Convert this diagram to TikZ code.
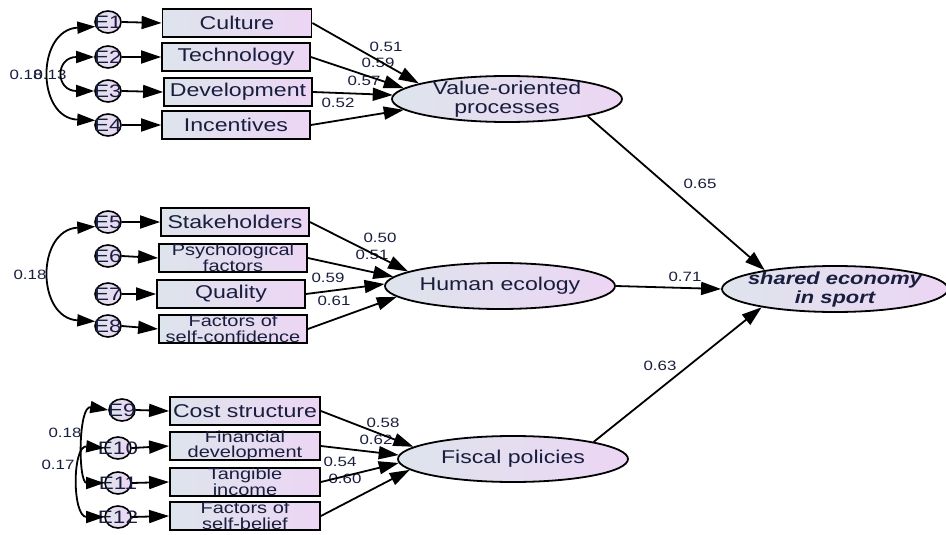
\documentclass[tikz,border=0pt]{standalone}
\usepackage{fontspec}
\setmainfont[FakeStretch=1.25]{Liberation Sans}
\usetikzlibrary{arrows.meta,shapes.geometric}
\definecolor{txt}{RGB}{25,30,62}
\definecolor{lc}{RGB}{222,228,236}
\definecolor{rc}{RGB}{236,214,244}
\begin{document}
\begin{tikzpicture}[x=1pt,y=-1pt,
  box/.style={draw, line width=1.8pt, left color=lc, right color=rc, minimum width=148pt, minimum height=28pt, inner sep=0pt},
  bt/.style={font=\fontsize{18.5}{18}\selectfont, text=txt, align=center, inner sep=0pt},
  bt2/.style={font=\fontsize{16}{15.5}\selectfont, text=txt, align=center, inner sep=0pt},
  lat/.style={ellipse, draw, line width=1.8pt, left color=lc, right color=rc, minimum width=230pt, minimum height=46pt, inner sep=0pt},
  lt/.style={font=\fontsize{18.5}{19}\selectfont, text=txt, align=center, inner sep=0pt},
  err/.style={ellipse, draw, line width=1.6pt, left color=lc, right color=rc, minimum width=26pt, minimum height=22pt, inner sep=0pt},
  et/.style={font=\fontsize{18}{18}\selectfont, text=txt, inner sep=0pt},
  num/.style={font=\fontsize{13.5}{13.5}\selectfont, text=txt, inner sep=0pt},
  arr/.style={line width=1.8pt, -{Triangle[length=20pt,width=13pt]}},
  cov/.style={line width=1.8pt, {Triangle[length=18pt,width=12pt]}-{Triangle[length=18pt,width=12pt]}}
]
\path[use as bounding box, fill=white] (0,0) rectangle (946,535);

% numeric labels (drawn first, arrows may cover them)
\node[num] (n1) at (386,47) {0.51};
\node[num] (n2) at (378,63) {0.59};
\node[num] (n3) at (364,81) {0.57};
\node[num] (n4) at (338,103) {0.52};
\node[num] (n5) at (26,75) {0.18};
\node[num] (n6) at (50,75) {0.13};
\node[num] (n7) at (380,238) {0.50};
\node[num] (n8) at (372,255) {0.51};
\node[num] (n9) at (328,278) {0.59};
\node[num] (n10) at (334,301) {0.61};
\node[num] (n11) at (30,275) {0.18};
\node[num] (n12) at (383,423) {0.58};
\node[num] (n13) at (376,440) {0.62};
\node[num] (n14) at (340,462) {0.54};
\node[num] (n15) at (345,479) {0.60};
\node[num] (n16) at (65,433) {0.18};
\node[num] (n17) at (58,465) {0.17};
\node[num] (n18) at (700,184) {0.65};
\node[num] (n19) at (685,277) {0.71};
\node[num] (n20) at (660,366) {0.63};

% group 1
\node[box, minimum width=149pt, label={[bt]center:Culture}] (b1) at (237,23) {};
\node[box, label={[bt]center:Technology}] (b2) at (236,57) {};
\node[box, label={[bt]center:Development}] (b3) at (238,92) {};
\node[box, label={[bt]center:Incentives}] (b4) at (236,125) {};
\node[err, label={[et]center:E1}] (e1) at (108,22) {};
\node[err, label={[et]center:E2}] (e2) at (108,57) {};
\node[err, label={[et]center:E3}] (e3) at (108,91) {};
\node[err, label={[et]center:E4}] (e4) at (108,125) {};
\node[lat, label={[lt]center:Value-oriented\\processes}] (V) at (507,99) {};

% group 2
\node[box, label={[bt]center:Stakeholders}] (b5) at (235,222) {};
\node[box, label={[bt2]center:Psychological\\factors}] (b6) at (233,258) {};
\node[box, label={[bt]center:Quality}] (b7) at (231,294) {};
\node[box, label={[bt2]center:Factors of\\self-confidence}] (b8) at (233,329) {};
\node[err, label={[et]center:E5}] (e5) at (108,222) {};
\node[err, label={[et]center:E6}] (e6) at (108,256) {};
\node[err, label={[et]center:E7}] (e7) at (108,294) {};
\node[err, label={[et]center:E8}] (e8) at (108,326) {};
\node[lat, label={[lt]center:Human ecology}] (H) at (500,286) {};

% group 3
\node[box, minimum width=150pt, label={[bt]center:Cost structure}] (b9) at (245,411) {};
\node[box, minimum width=150pt, label={[bt2]center:Financial\\development}] (b10) at (245,446) {};
\node[box, minimum width=150pt, label={[bt2]center:Tangible\\income}] (b11) at (245,482) {};
\node[box, minimum width=150pt, label={[bt2]center:Factors of\\self-belief}] (b12) at (245,516) {};
\node[err, label={[et]center:E9}] (e9) at (122,410) {};
\node[err, label={[et]center:E10}] (e10) at (118,448) {};
\node[err, label={[et]center:E11}] (e11) at (118,483) {};
\node[err, label={[et]center:E12}] (e12) at (118,517) {};
\node[lat, label={[lt]center:Fiscal policies}] (F) at (513,459) {};

% outcome
\node[lat, minimum width=226pt, label={[lt, font=\fontsize{17.5}{19}\bfseries\itshape\selectfont]center:shared economy\\in sport}] (S) at (835,289) {};

% error arrows
\foreach \i in {1,...,12} \draw[arr] (e\i.east) -- (b\i.west);

% indicator arrows
\draw[arr] (b1.east) -- (V.170);
\draw[arr] (b2.east) -- (V.174);
\draw[arr] (b3.east) -- (V.178);
\draw[arr] (b4.east) -- (V.186);
\draw[arr] (b5.east) -- (H.171);
\draw[arr] (b6.east) -- (H.175);
\draw[arr] (b7.east) -- (H.179);
\draw[arr] (b8.east) -- (H.186);
\draw[arr] (b9.east) -- (F.173);
\draw[arr] (b10.east) -- (F.178);
\draw[arr] (b11.east) -- (F.182);
\draw[arr] (b12.east) -- (F.186);

% structural arrows
\draw[arr] (V.-12) -- (S.165);
\draw[arr] (H.east) -- (S.west);
\draw[arr] (F.12) -- (S.194);

% covariances
\draw[cov] (e1.200) .. controls (36,30) and (36,118) .. (e4.160);
\draw[cov] (e2.west) .. controls (55,57) and (55,91) .. (e3.west);
\draw[cov] (e5.200) .. controls (36,230) and (36,318) .. (e8.160);
\draw[cov] (e9.west) .. controls (78,405) and (78,483) .. (e11.west);
\draw[cov] (e10.west) .. controls (72,445) and (72,517) .. (e12.west);
\end{tikzpicture}
\end{document}
